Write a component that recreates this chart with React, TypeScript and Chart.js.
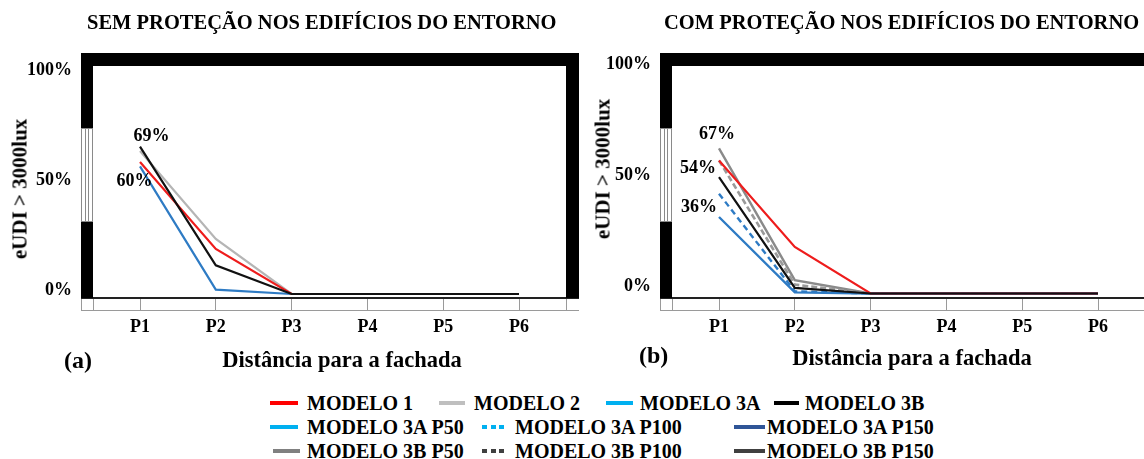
import React, { useEffect, useRef } from 'react';
import { Chart, registerables } from 'chart.js';

Chart.register(...registerables);

// ---------- DATA ----------
const categories = ['P1', 'P2', 'P3', 'P4', 'P5', 'P6'];
const yTickValues = [0, 50, 100];

// (a) SEM PROTEÇÃO
const semModelo1 = [60, 20.5, 0, 0, 0, 0];
const semModelo2 = [65, 25, 0, 0, 0, 0];
const semModelo3A = [58, 2, 0, 0, 0, 0];
const semModelo3B = [67, 13, 0, 0, 0, 0];
const semNoteTexts = ['69%', '60%'];
const semNoteValues = [69, 60];

// (b) COM PROTEÇÃO
const comModelo1 = [60, 21, 0, 0, 0, 0];
const com3BP50 = [65.5, 6, 0, 0, 0, 0];
const com3BP100 = [60, 4, 0, 0, 0, 0];
const com3BP150 = [52.5, 2.5, 0, 0, 0, 0];
const com3AP100 = [45, 1, 0, 0, 0, 0];
const com3AP50 = [34.5, 0.5, 0, 0, 0, 0];
const comNoteTexts = ['67%', '54%', '36%'];
const comNoteValues = [67, 54, 36];

const legendNames = [
  'MODELO 1', 'MODELO 2', 'MODELO 3A', 'MODELO 3B',
  'MODELO 3A P50', 'MODELO 3A P100', 'MODELO 3A P150',
  'MODELO 3B P50', 'MODELO 3B P100', 'MODELO 3B P150',
];

// ---------- STYLES ----------
const FONT = "'Liberation Serif', 'Times New Roman', serif";
const legendColors = ['#ff0000', '#bfbfbf', '#00b0f0', '#000000', '#00b0f0', '#00b0f0', '#2f5597', '#808080', '#404040', '#404040'];
const legendDotted = [false, false, false, false, false, true, false, false, true, false];
const legendRowY = [403, 427, 451];
const legendRowOf = [0, 0, 0, 0, 1, 1, 1, 2, 2, 2];
const legendSwatchX = [270, 439, 606, 774, 270, 482, 734, 273, 482, 734];
const legendSwatchW = [28, 26, 27, 25, 28, 23, 31, 27, 23, 31];
const legendTextX = [307, 474, 640, 805, 307, 515, 767, 307, 515, 767];

const semNoteOffsets = [[11.5, -6], [-5.5, 19.5]];
const comNoteOffsets = [[-2, -11], [-21, -5], [-20, -6]];

const pts = (arr: number[]) => arr.map((v, i) => ({ x: i + 1, y: v }));

function makeRoomPlugin(texts: string[], values: number[], offsets: number[][]) {
  return {
    id: 'room',
    beforeDatasetsDraw(chart: any) {
      const { ctx, chartArea: ca } = chart;
      const wl = 12, wt = 13, wr = 13, fh = 12;
      const winTop = ca.top + 62, winBot = ca.top + 156;
      ctx.save();
      // floor strip
      ctx.strokeStyle = '#9a9a9a';
      ctx.lineWidth = 1;
      ctx.beginPath();
      ctx.moveTo(ca.left - wl, ca.bottom + fh + 0.5);
      ctx.lineTo(ca.right + wr, ca.bottom + fh + 0.5);
      for (const x of [ca.left - wl, ca.left, ca.right, ca.right + wr]) {
        ctx.moveTo(x + 0.5, ca.bottom);
        ctx.lineTo(x + 0.5, ca.bottom + fh);
      }
      ctx.stroke();
      ctx.fillStyle = '#222';
      ctx.fillRect(ca.left - wl, ca.bottom - 1, wl + (ca.right - ca.left) + wr, 2);
      // walls
      ctx.fillStyle = '#000';
      ctx.fillRect(ca.left - wl, ca.top - wt, wl + (ca.right - ca.left) + wr, wt);
      ctx.fillRect(ca.left - wl, ca.top - wt, wl, winTop - (ca.top - wt));
      ctx.fillRect(ca.left - wl, winBot, wl, ca.bottom - winBot);
      ctx.fillRect(ca.right, ca.top - wt, wr, ca.bottom - ca.top + wt);
      // window
      ctx.strokeStyle = '#8a8a8a';
      ctx.strokeRect(ca.left - wl + 0.5, winTop + 0.5, wl - 1, winBot - winTop - 1);
      ctx.beginPath();
      ctx.moveTo(ca.left - wl + 4.5, winTop);
      ctx.lineTo(ca.left - wl + 4.5, winBot);
      ctx.moveTo(ca.left - wl + 7.5, winTop);
      ctx.lineTo(ca.left - wl + 7.5, winBot);
      ctx.stroke();
      ctx.restore();
    },
    afterDatasetsDraw(chart: any) {
      const { ctx } = chart;
      const xs = chart.scales.x, ys = chart.scales.y;
      ctx.save();
      ctx.font = `bold 18px ${FONT}`;
      ctx.fillStyle = '#000';
      ctx.textAlign = 'center';
      ctx.textBaseline = 'middle';
      texts.forEach((t, i) => {
        const x = xs.getPixelForValue(1) + offsets[i][0];
        const y = ys.getPixelForValue(values[i]) + offsets[i][1];
        ctx.fillText(t, x, y);
      });
      ctx.restore();
    },
  };
}

function makeOptions(yMin: number, yMax: number, labelOffset: number) {
  return {
    responsive: false,
    animation: false as const,
    events: [],
    layout: { padding: { left: 0, right: 13, top: 66, bottom: 0 } },
    plugins: { legend: { display: false }, tooltip: { enabled: false } },
    elements: { point: { radius: 0 }, line: { tension: 0 } },
    scales: {
      x: {
        type: 'linear' as const,
        min: 1 - 47 / 75.8,
        max: 6 + 47 / 75.8,
        afterBuildTicks: (s: any) => { s.ticks = categories.map((_, i) => ({ value: i + 1 })); },
        afterFit: (s: any) => { s.height = 82; },
        grid: { display: true, drawOnChartArea: false, drawTicks: true, tickLength: 12, color: '#9a9a9a', lineWidth: 1 },
        border: { display: true, color: '#222', width: 2 },
        ticks: {
          padding: 7,
          color: '#000',
          font: { family: FONT, size: 18, weight: 'bold' as const },
          callback: (v: any) => categories[Math.round(v) - 1] ?? '',
        },
      },
      y: {
        type: 'linear' as const,
        min: yMin,
        max: yMax,
        afterBuildTicks: (s: any) => { s.ticks = yTickValues.map((v) => ({ value: v })); },
        afterFit: (s: any) => { s.width = 93; },
        grid: { display: false, drawTicks: false },
        border: { display: false },
        ticks: {
          padding: 21,
          labelOffset,
          color: '#000',
          font: { family: FONT, size: 18, weight: 'bold' as const },
          callback: (v: any) => `${v}%`,
        },
      },
    },
  };
}

const ds = (label: string, data: number[], color: string, width = 2.2, dash: number[] = []) => ({
  label,
  data: pts(data),
  borderColor: color,
  backgroundColor: color,
  borderWidth: width,
  borderDash: dash,
  fill: false,
  pointRadius: 0,
});

function Panel({ left, which }: { left: number; which: 'a' | 'b' }) {
  const ref = useRef<HTMLCanvasElement>(null);
  useEffect(() => {
    if (!ref.current) return;
    let chart: Chart;
    if (which === 'a') {
      // first dataset is drawn on top
      chart = new Chart(ref.current, {
        type: 'line',
        data: {
          datasets: [
            ds('MODELO 3B', semModelo3B, '#111111'),
            ds('MODELO 1', semModelo1, '#ee1c1c'),
            ds('MODELO 2', semModelo2, '#b5b5b5'),
            ds('MODELO 3A', semModelo3A, '#2e7bc4'),
          ],
        },
        options: makeOptions(-4 / 2.2, 228 / 2.2, -4) as any,
        plugins: [makeRoomPlugin(semNoteTexts, semNoteValues, semNoteOffsets)],
      });
    } else {
      chart = new Chart(ref.current, {
        type: 'line',
        data: {
          datasets: [
            ds('MODELO 3B P150', com3BP150, '#111111'),
            ds('MODELO 1', comModelo1, '#ee1c1c'),
            ds('MODELO 3A P100', com3AP100, '#2e7bc4', 2.4, [6, 4]),
            ds('MODELO 3A P50', com3AP50, '#2e7bc4', 2.4),
            ds('MODELO 3B P100', com3BP100, '#9a9a9a', 2.6, [6, 3]),
            ds('MODELO 3B P50', com3BP50, '#8a8a8a', 2.4),
          ],
        },
        options: makeOptions(-4.5 / 2.217, 227.5 / 2.217, -7) as any,
        plugins: [makeRoomPlugin(comNoteTexts, comNoteValues, comNoteOffsets)],
      });
    }
    return () => chart.destroy();
  }, [which]);
  return (
    <canvas
      ref={ref}
      width={579}
      height={380}
      style={{ position: 'absolute', left, top: 0, width: 579, height: 380, display: 'block' }}
    />
  );
}

const textStyle = (left: number, cy: number, size: number): React.CSSProperties => ({
  position: 'absolute',
  left,
  top: cy - size / 2,
  fontFamily: FONT,
  fontWeight: 'bold',
  fontSize: size,
  lineHeight: `${size}px`,
  whiteSpace: 'nowrap',
  color: '#000',
});

const centeredText = (cx: number, cy: number, size: number): React.CSSProperties => ({
  ...textStyle(cx, cy, size),
  transform: 'translateX(-50%)',
});

const rotatedText = (cx: number, cy: number, size: number): React.CSSProperties => ({
  position: 'absolute',
  left: cx,
  top: cy,
  fontFamily: FONT,
  fontWeight: 'bold',
  fontSize: size,
  lineHeight: `${size}px`,
  whiteSpace: 'nowrap',
  color: '#000',
  transform: 'translate(-50%, -50%) rotate(-90deg)',
});

export default function App() {
  return (
    <div
      style={{
        position: 'fixed',
        left: 0,
        top: 0,
        width: 1144,
        height: 459,
        overflow: 'hidden',
        background: '#fff',
      }}
    >
      <Panel left={0} which="a" />
      <Panel left={579} which="b" />

      <div style={textStyle(87, 22, 20.5)}>SEM PROTEÇÃO NOS EDIFÍCIOS DO ENTORNO</div>
      <div style={textStyle(664, 22, 20.5)}>COM PROTEÇÃO NOS EDIFÍCIOS DO ENTORNO</div>

      <div style={rotatedText(20, 189, 21)}>eUDI &gt; 3000lux</div>
      <div style={rotatedText(603, 169, 21)}>eUDI &gt; 3000lux</div>

      <div style={textStyle(64, 360, 24)}>(a)</div>
      <div style={textStyle(639, 355, 24)}>(b)</div>
      <div style={centeredText(342, 360, 22.5)}>Distância para a fachada</div>
      <div style={centeredText(912, 358, 22.5)}>Distância para a fachada</div>

      {legendNames.map((name, i) => {
        const cy = legendRowY[legendRowOf[i]];
        const color = legendColors[i];
        return (
          <React.Fragment key={name}>
            <div
              style={{
                position: 'absolute',
                left: legendSwatchX[i],
                top: cy - 2,
                width: legendSwatchW[i],
                height: 4,
                background: legendDotted[i]
                  ? `repeating-linear-gradient(90deg, ${color} 0 5px, transparent 5px 8.5px)`
                  : color,
              }}
            />
            <div style={textStyle(legendTextX[i], cy, 20)}>{name}</div>
          </React.Fragment>
        );
      })}
    </div>
  );
}
